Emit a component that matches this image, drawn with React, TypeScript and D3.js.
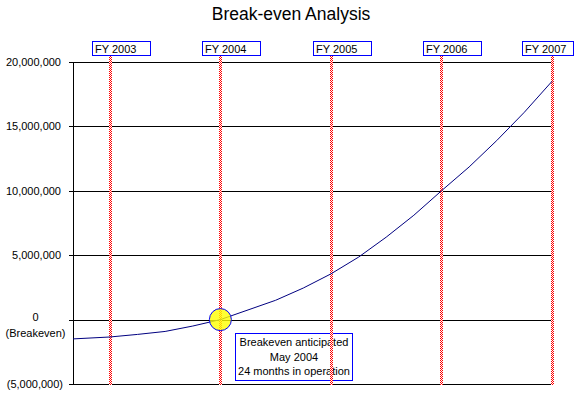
import React, { useEffect, useRef } from 'react';
import * as d3 from 'd3';

// months in operation vs cumulative result
const months = [8, 12, 15, 18, 21, 24, 27, 30, 33, 36, 39, 42, 45, 48, 51, 54, 57, 60];
const cumulative = [-1500000, -1350000, -1150000, -920000, -500000, 0, 750000, 1500000, 2450000,
  3550000, 4850000, 6400000, 8100000, 10000000, 11850000, 13900000, 16100000, 18500000];

const fyLabels = ['FY 2003', 'FY 2004', 'FY 2005', 'FY 2006', 'FY 2007'];
const fyMonths = [12, 24, 36, 48, 60];

const yTicks = [-5000000, 0, 5000000, 10000000, 15000000, 20000000];

const breakevenMonth = 24;
const breakevenValue = 0;
const noteLines = ['Breakeven anticipated', 'May 2004', '24 months in operation'];

const W = 582;
const H = 396;
const CLIP_RIGHT = 574;
const FONT = '"Liberation Sans", Arial, sans-serif';

export default function App() {
  const ref = useRef<SVGSVGElement>(null);

  useEffect(() => {
    const svg = d3.select(ref.current);
    svg.selectAll('*').remove();

    const x = d3.scaleLinear().domain([8, 60]).range([73, 552]);
    const y = d3.scaleLinear().domain([-5000000, 20000000]).range([384, 62]);

    // checkered red pattern for the year markers
    const defs = svg.append('defs');
    const pat = defs.append('pattern')
      .attr('id', 'redcheck')
      .attr('patternUnits', 'userSpaceOnUse')
      .attr('width', 2).attr('height', 2);
    pat.append('rect').attr('width', 2).attr('height', 2).attr('fill', '#fff');
    pat.append('rect').attr('width', 1).attr('height', 1).attr('fill', '#ff0000');
    pat.append('rect').attr('x', 1).attr('y', 1).attr('width', 1).attr('height', 1).attr('fill', '#ff0000');

    svg.append('text')
      .attr('x', W / 2).attr('y', 20)
      .attr('text-anchor', 'middle')
      .style('font-family', FONT).style('font-size', '17.5px')
      .text('Break-even Analysis');

    // gridlines + ticks
    const grid = svg.append('g');
    yTicks.forEach(v => {
      const yy = Math.round(y(v)) + 0.5;
      grid.append('line')
        .attr('x1', 69).attr('x2', 552).attr('y1', yy).attr('y2', yy)
        .attr('stroke', '#000').attr('stroke-width', 1);
    });
    grid.append('line')
      .attr('x1', 73.5).attr('x2', 73.5).attr('y1', y(20000000)).attr('y2', y(-5000000) + 0.5)
      .attr('stroke', '#000');

    // y labels
    const fmt = d3.format(',');
    yTicks.forEach(v => {
      if (v === 0) {
        svg.append('text').attr('x', 35.5).attr('y', y(v) + 1)
          .attr('text-anchor', 'middle')
          .style('font-family', FONT).style('font-size', '11px').text('0');
        svg.append('text').attr('x', 35.5).attr('y', y(v) + 17)
          .attr('text-anchor', 'middle')
          .style('font-family', FONT).style('font-size', '11px').text('(Breakeven)');
      } else {
        const label = v < 0 ? `(${fmt(-v)})` : fmt(v);
        svg.append('text').attr('x', v < 0 ? 63 : 61).attr('y', y(v) + 4)
          .attr('text-anchor', 'end')
          .style('font-family', FONT).style('font-size', '11px').text(label);
      }
    });

    // note box (sits under the year markers)
    svg.append('rect')
      .attr('x', 235.5).attr('y', 333.5).attr('width', 117).attr('height', 47)
      .attr('fill', '#fff').attr('stroke', '#0000ff');
    noteLines.forEach((t, i) => {
      svg.append('text')
        .attr('x', 294).attr('y', 346 + i * 14.5)
        .attr('text-anchor', 'middle')
        .style('font-family', FONT).style('font-size', '11px')
        .text(t);
    });

    // year markers
    fyMonths.forEach((m, i) => {
      const xx = Math.round(x(m));
      svg.append('rect')
        .attr('x', xx - 1).attr('y', 56).attr('width', 3).attr('height', y(-5000000) - 56 + 1)
        .attr('fill', 'url(#redcheck)');
      let left = xx - 17.5;
      let bw = 58;
      if (left + bw > CLIP_RIGHT) {
        bw = 51;
        left = CLIP_RIGHT - bw - 0.5;
      }
      svg.append('rect')
        .attr('x', left).attr('y', 41.5).attr('width', bw).attr('height', 14)
        .attr('fill', '#fff').attr('stroke', '#0000ff').attr('stroke-width', 1);
      svg.append('text')
        .attr('x', left + 2.5).attr('y', 53)
        .style('font-family', FONT).style('font-size', '11px')
        .text(fyLabels[i]);
    });

    // cumulative line
    const pts = months.map((m, i) => [m, cumulative[i]] as [number, number]);
    const line = d3.line<[number, number]>().x(d => x(d[0])).y(d => y(d[1]));
    svg.append('path').datum(pts)
      .attr('d', line)
      .attr('fill', 'none').attr('stroke', '#000080').attr('stroke-width', 1);

    // breakeven marker
    svg.append('circle')
      .attr('cx', x(breakevenMonth)).attr('cy', y(breakevenValue)).attr('r', 11)
      .attr('fill', '#ffff00').attr('fill-opacity', 0.8)
      .attr('stroke', '#0000ff').attr('stroke-width', 1);
  }, []);

  return (
    <svg ref={ref} width={W} height={H}
      style={{ position: 'absolute', left: 0, top: 0, background: '#fff' }} />
  );
}
